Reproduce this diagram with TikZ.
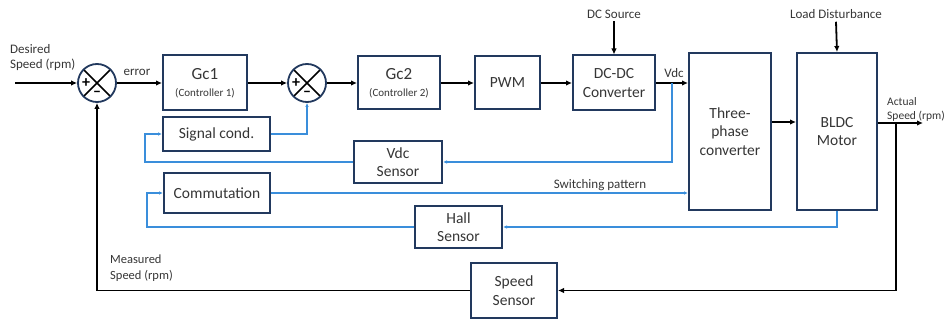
\documentclass[tikz,border=0pt]{standalone}
\usepackage{fontspec}
\setmainfont{Carlito}
\usetikzlibrary{arrows.meta,calc}
\definecolor{navy}{HTML}{22395E}
\definecolor{bluel}{HTML}{3A8EDB}
\definecolor{txt}{HTML}{363636}
\begin{document}
\begin{tikzpicture}[x=1pt,y=-1pt,
  box/.style={draw=navy, line width=2pt, fill=white, text=txt, align=center, inner sep=0pt, font=\fontsize{15.5}{18.5}\selectfont},
  lbl/.style={text=txt, font=\fontsize{13}{15}\selectfont, inner sep=0pt, align=left},
  arr/.style={line width=1.8pt, -{Latex[length=6pt,width=5.5pt]}},
  barr/.style={draw=bluel, line width=1.3pt, -{Latex[length=4pt,width=3.5pt]}},
  sumj/.style={circle, draw=navy, line width=1.8pt, minimum size=38pt, inner sep=0pt, fill=white,
    path picture={\draw[line width=1.6pt,black] (path picture bounding box.north west) -- (path picture bounding box.south east)
      (path picture bounding box.north east) -- (path picture bounding box.south west);}},
  sgn/.style={text=black, font=\fontsize{16}{16}\selectfont\bfseries, inner sep=0.3pt, fill=white}
]
\useasboundingbox (0,0) rectangle (947,320);

% blocks
\node[sumj] (s1) at (97,83) {};
\node[box, minimum width=84pt, minimum height=55pt] (gc1) at (205,83) {\fontsize{17}{17}\selectfont Gc1\\[-1pt]{\fontsize{11}{12}\selectfont (Controller 1)}};
\node[sumj] (s2) at (307,83) {};
\node[box, minimum width=82pt, minimum height=53pt] (gc2) at (399,83) {\fontsize{17}{17}\selectfont Gc2\\[-1pt]{\fontsize{11}{12}\selectfont (Controller 2)}};
\node[box, minimum width=65pt, minimum height=53pt] (pwm) at (507.5,83) {PWM};
\node[box, minimum width=82pt, minimum height=55pt] (dcdc) at (614,83) {DC-DC\\Converter};
\node[box, minimum width=82pt, minimum height=157pt] (three) at (730,131.5) {Three-\\phase\\converter};
\node[box, minimum width=80pt, minimum height=157pt] (bldc) at (837,131.5) {BLDC\\Motor};
\node[box, minimum width=107pt, minimum height=34pt] (sig) at (216.5,134) {Signal cond.};
\node[box, minimum width=88pt, minimum height=42pt] (vdcs) at (398,162) {Vdc\\Sensor};
\node[box, minimum width=106pt, minimum height=40pt] (comm) at (217,193) {Commutation};
\node[box, minimum width=87pt, minimum height=42pt] (hall) at (458.5,227) {Hall\\Sensor};
\node[box, minimum width=86pt, minimum height=55pt] (speed) at (514,290.5) {Speed\\Sensor};

% signs
\node[sgn] (p1) at ($(s1.center)+(-11,0)$) {+};
\node[sgn] (m1) at ($(s1.center)+(0,11)$) {–};
\node[sgn] (p2) at ($(s2.center)+(-11,0)$) {+};
\node[sgn] (m2) at ($(s2.center)+(0,11)$) {–};

% labels
\node[lbl, anchor=north west] (desired) at (10,44) {Desired\\Speed (rpm)};
\node[lbl] (err) at (137,72) {error};
\node[lbl] (vdc) at (674,73) {Vdc};
\node[lbl] (dcsrc) at (614,14) {DC Source};
\node[lbl] (load) at (836,14) {Load Disturbance};
\node[lbl, anchor=north west, font=\fontsize{11.5}{14}\selectfont] (actual) at (887,97) {Actual\\Speed (rpm)};
\node[lbl, anchor=north west, font=\fontsize{12.5}{16}\selectfont] (meas) at (110,255) {Measured\\Speed (rpm)};
\node[lbl] (swp) at (600,185) {Switching pattern};

% coordinates
\coordinate (in) at (15,83);
\coordinate (vj) at (672,83);
\coordinate (m) at (0,122);
\coordinate (outend) at (923,123);
\coordinate (j) at (896,123);
\coordinate (cx1) at (145,0);
\coordinate (cx2) at (147,0);

% main path
\draw[arr] (in) -- (s1.west);
\draw[arr] (s1.east) -- (gc1.west);
\draw[arr] (gc1.east) -- (s2.west);
\draw[arr] (s2.east) -- (gc2.west);
\draw[arr] (gc2.east) -- (pwm.west);
\draw[arr] (pwm.east) -- (dcdc.west);
\draw[arr] (dcdc.east) -- (three.west |- dcdc.east);
\draw[arr] (dcsrc.south) ++(0,3) -- (dcdc.north);
\draw[arr] (load.south) ++(0,3) -- (bldc.north);
\draw[arr] (three.east |- m) -- (bldc.west |- m);
\draw[arr] (bldc.east |- j) -- (outend);
\draw[arr] (j) |- (speed.east);
\draw[arr] (speed.west) -| (s1.south);

% blue paths
\draw[barr] (vj) |- (vdcs.east);
\draw[barr] (vdcs.west) -- (vdcs.west -| cx1) |- (sig.west);
\draw[barr] (sig.east) -| (s2.south);
\draw[barr] (comm.east) -- (three.west |- comm.east);
\draw[barr] (bldc.south) |- (hall.east);
\draw[barr] (hall.west) -- (hall.west -| cx2) |- (comm.west);
\end{tikzpicture}
\end{document}
